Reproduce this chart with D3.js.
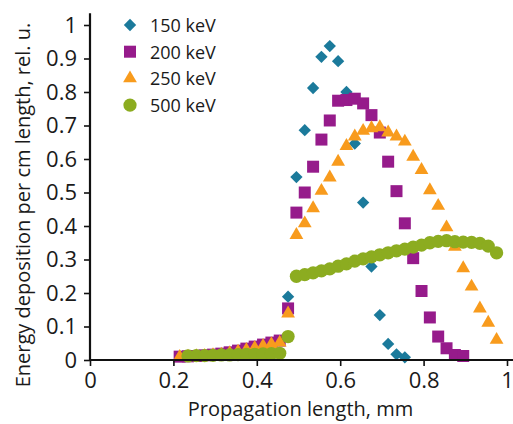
<!DOCTYPE html>
<html>
<head>
<meta charset="utf-8">
<script src="https://cdn.jsdelivr.net/npm/d3@7"></script>
<style>
  body { margin: 0; background: #fff; }
  svg { display: block; }
  text { font-family: "Open Sans", "DejaVu Sans", sans-serif; fill: #1a1a1a; }
</style>
</head>
<body>
<svg id="chart" width="513" height="424"></svg>
<script>
// Energy deposition profiles along the propagation depth for four photon energies
const energies = ["150 keV", "200 keV", "250 keV", "500 keV"];

const depth150 = [0.475, 0.495, 0.515, 0.535, 0.555, 0.575, 0.595, 0.615, 0.635, 0.655,
                  0.675, 0.695, 0.715, 0.735, 0.755];
const dose150  = [0.189, 0.546, 0.686, 0.812, 0.905, 0.937, 0.892, 0.800, 0.646, 0.470,
                  0.279, 0.134, 0.048, 0.017, 0.008];

const depth200 = [0.215, 0.235, 0.255, 0.275, 0.295, 0.315, 0.335, 0.355, 0.375, 0.395, 0.415, 0.435, 0.455,
                  0.475, 0.495, 0.515, 0.535, 0.555, 0.575, 0.595, 0.615, 0.635, 0.655,
                  0.675, 0.695, 0.715, 0.735, 0.755, 0.775, 0.795, 0.815, 0.835, 0.855, 0.875, 0.895];
const dose200  = [0.010, 0.011, 0.012, 0.014, 0.016, 0.019, 0.023, 0.028, 0.034, 0.040, 0.046, 0.052, 0.058,
                  0.154, 0.440, 0.500, 0.577, 0.658, 0.715, 0.774, 0.776, 0.780, 0.766,
                  0.731, 0.679, 0.592, 0.504, 0.408, 0.304, 0.206, 0.127, 0.070, 0.035, 0.015, 0.012];

const depth250 = [0.215, 0.235, 0.255, 0.275, 0.295, 0.315, 0.335, 0.355, 0.375, 0.395, 0.415, 0.435, 0.455,
                  0.475, 0.495, 0.515, 0.535, 0.555, 0.575, 0.595, 0.615, 0.635, 0.655,
                  0.675, 0.695, 0.715, 0.735, 0.755, 0.775, 0.795, 0.815, 0.835, 0.855,
                  0.875, 0.895, 0.915, 0.935, 0.955, 0.975];
const dose250  = [0.009, 0.010, 0.011, 0.012, 0.014, 0.016, 0.020, 0.025, 0.030, 0.036, 0.042, 0.047, 0.052,
                  0.139, 0.373, 0.408, 0.453, 0.505, 0.545, 0.592, 0.639, 0.667, 0.684,
                  0.692, 0.695, 0.679, 0.667, 0.652, 0.607, 0.567, 0.507, 0.460, 0.396,
                  0.338, 0.274, 0.219, 0.154, 0.111, 0.060];

const depth500 = [0.235, 0.255, 0.275, 0.295, 0.315, 0.335, 0.355, 0.375, 0.395, 0.415, 0.435, 0.455,
                  0.475, 0.495, 0.515, 0.535, 0.555, 0.575, 0.595, 0.615, 0.635, 0.655,
                  0.675, 0.695, 0.715, 0.735, 0.755, 0.775, 0.795, 0.815, 0.835, 0.855,
                  0.875, 0.895, 0.915, 0.935, 0.955, 0.975];
const dose500  = [0.012, 0.013, 0.013, 0.014, 0.015, 0.015, 0.016, 0.017, 0.017, 0.018, 0.019, 0.020,
                  0.070, 0.250, 0.255, 0.260, 0.266, 0.272, 0.280, 0.287, 0.295, 0.302,
                  0.308, 0.314, 0.320, 0.326, 0.331, 0.337, 0.343, 0.350, 0.354, 0.356,
                  0.353, 0.352, 0.351, 0.348, 0.340, 0.320];

const xTicks = [0, 0.2, 0.4, 0.6, 0.8, 1];
const yTicks = [0, 0.1, 0.2, 0.3, 0.4, 0.5, 0.6, 0.7, 0.8, 0.9, 1];

// Drawing
const svg = d3.select("#chart");
const x = d3.scaleLinear().domain([0, 1]).range([90, 507]);
const y = d3.scaleLinear().domain([0, 1]).range([360, 25]);
const fmt = d3.format(".1~f");

const series = [
  { name: energies[0], xs: depth150, ys: dose150, color: "#1b7a9b", shape: "diamond" },
  { name: energies[1], xs: depth200, ys: dose200, color: "#961b8b", shape: "square" },
  { name: energies[2], xs: depth250, ys: dose250, color: "#f89b1d", shape: "triangle" },
  { name: energies[3], xs: depth500, ys: dose500, color: "#8cac20", shape: "circle" }
];

const shapes = {
  diamond:  { type: d3.symbolSquare,   size: 76,  rot: 45 },
  square:   { type: d3.symbolSquare,   size: 144, rot: 0 },
  triangle: { type: d3.symbolTriangle, size: 82,  rot: 0 },
  circle:   { type: d3.symbolCircle,   size: 138, rot: 0 }
};

function marker(sel, shape, color) {
  const s = shapes[shape];
  sel.attr("d", d3.symbol().type(s.type).size(s.size)())
     .attr("fill", color);
}

// Data markers
series.forEach(s => {
  const g = svg.append("g");
  g.selectAll("path")
    .data(s.xs.map((v, i) => [v, s.ys[i]]))
    .join("path")
    .call(marker, s.shape, s.color)
    .attr("transform", d => `translate(${x(d[0])},${y(d[1])}) rotate(${shapes[s.shape].rot})`);
});

// Axes
const xAxis = svg.append("g")
  .attr("transform", `translate(0,${y(0)})`)
  .call(d3.axisBottom(x).tickValues(xTicks).tickFormat(fmt).tickSizeOuter(0).tickSize(6).tickPadding(6));
const yAxis = svg.append("g")
  .attr("transform", `translate(${x(0)},0)`)
  .call(d3.axisLeft(y).tickValues(yTicks).tickFormat(fmt).tickSizeOuter(0).tickSize(6).tickPadding(7));

[xAxis, yAxis].forEach(a => {
  a.select(".domain").remove();
  a.selectAll(".tick line").attr("stroke", "#111").attr("stroke-width", 1.6);
  a.selectAll(".tick text").attr("fill", "#1a1a1a")
    .style("font-family", '"Open Sans", sans-serif').style("font-size", "22px");
});

// Axis lines running slightly past the last ticks
svg.append("line")
  .attr("x1", x(0)).attr("x2", x(0))
  .attr("y1", y(0) + 1).attr("y2", y(1.035))
  .attr("stroke", "#111").attr("stroke-width", 2.2);
svg.append("line")
  .attr("x1", x(0) - 1).attr("x2", x(1.015))
  .attr("y1", y(0)).attr("y2", y(0))
  .attr("stroke", "#111").attr("stroke-width", 2.2);

// Axis titles
svg.append("text")
  .attr("x", (x(0) + x(1)) / 2 + 2).attr("y", 416)
  .attr("text-anchor", "middle")
  .style("font-size", "20px")
  .text("Propagation length, mm");

svg.append("text")
  .attr("transform", `translate(30,${205}) rotate(-90)`)
  .attr("text-anchor", "middle")
  .style("font-size", "20px")
  .text("Energy deposition per cm length, rel. u.");

// Legend
const legend = svg.append("g");
series.forEach((s, i) => {
  const cy = 25 + i * 26.7;
  legend.append("path")
    .call(marker, s.shape, s.color)
    .attr("transform", `translate(130,${cy}) rotate(${shapes[s.shape].rot})`);
  legend.append("text")
    .attr("x", 150).attr("y", cy)
    .attr("dominant-baseline", "central")
    .style("font-size", "18px")
    .text(s.name);
});
</script>
</body>
</html>
